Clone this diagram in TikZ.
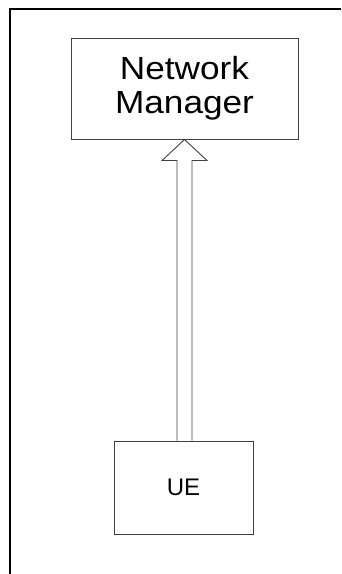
\documentclass[tikz,border=0pt]{standalone}
\usepackage{fontspec}
\setmainfont{Liberation Sans}
\usetikzlibrary{calc}
\begin{document}
\begin{tikzpicture}[x=1pt,y=-1pt,
  box/.style={draw=black!75, line width=1pt, minimum width=#1, inner sep=0pt, align=center},
  frame/.style={draw=black, line width=1.1pt},
  hollow/.style={draw=black!75, line width=0.9pt, fill=white, line join=miter}]
\useasboundingbox (0,0) rectangle (341,574);
\draw[frame] (10,574) -- (10,9) -- (341,9);
\node[box=227pt, minimum height=101pt, font=\fontsize{32}{34}\selectfont] (nm) at (184.5,88.5)
  {\scalebox{1.1}[1]{Network}\\\scalebox{1.1}[1]{Manager}};
\node[box=139pt, minimum height=93pt, font=\fontsize{24}{26}\selectfont] (ue) at (183.5,487.5)
  {UE};
\draw[hollow] ($(ue.north)+(-6.5,0)$) -- ($(nm.south)+(-7.5,21)$) -- ($(nm.south)+(-22.5,21)$)
  -- (nm.south) -- ($(nm.south)+(22.5,21)$) -- ($(nm.south)+(7.5,21)$) -- ($(ue.north)+(8.5,0)$);
\end{tikzpicture}
\end{document}
